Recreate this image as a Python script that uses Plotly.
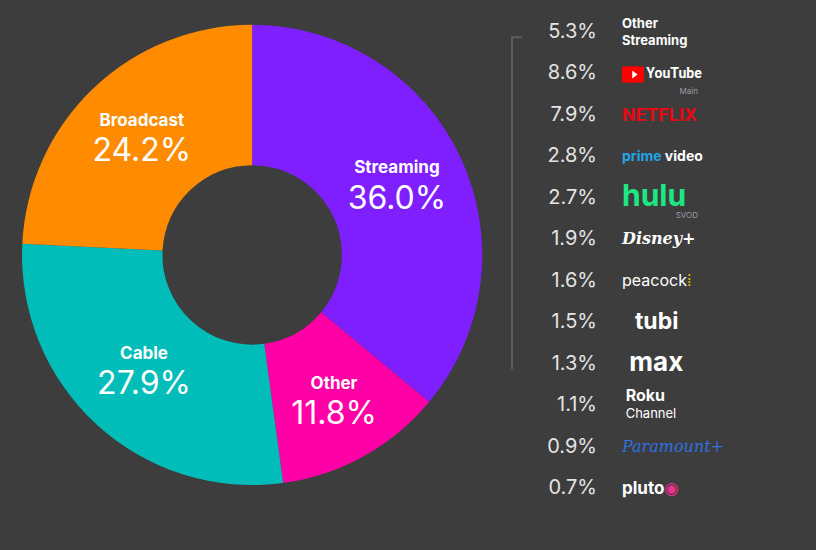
import plotly.graph_objects as go

# Share of TV viewing by category
categories = ["Streaming", "Other", "Cable", "Broadcast"]
shares = [36.0, 11.8, 27.9, 24.2]
slice_colors = ["#7F1FFF", "#FF00A6", "#00BDB9", "#FF8C00"]

# Streaming breakdown (right-hand list)
platforms = ["Other Streaming", "YouTube", "Netflix", "Prime Video", "Hulu", "Disney+",
             "Peacock", "Tubi", "Max", "Roku Channel", "Paramount+", "Pluto TV"]
platform_shares = [5.3, 8.6, 7.9, 2.8, 2.7, 1.9, 1.6, 1.5, 1.3, 1.1, 0.9, 0.7]
sub_labels = ["", "Main", "", "", "SVOD", "", "", "", "", "", "", ""]

# how each platform name is styled (stand-ins for the logos)
platform_text = [
    "<b>Other<br>Streaming</b>",
    "       <b>YouTube</b>",
    "<b>NETFLIX</b>",
    "<b><span style='color:#22A5E6'>prime</span> video</b>",
    "<b>hulu</b>",
    "<i><b>Disney+</b></i>",
    "peacock<span style='color:#F2B705'>⁞</span>",
    "  <b>tubi</b>",
    " <b>max</b>",
    " <b><span style='font-size:16px'>Roku</span></b><br> Channel",
    "<i>Paramount+</i>",
    "<b>pluto</b><span style='color:#E8318F'>◉</span>",
]
platform_colors = ["#FFFFFF", "#FFFFFF", "#E50914", "#FFFFFF", "#1CE783", "#FFFFFF",
                   "#FFFFFF", "#FFFFFF", "#FFFFFF", "#FFFFFF", "#2F6FE0", "#FFFFFF"]
platform_sizes = [13, 14, 19, 14, 30, 16, 16, 23, 26, 13, 16, 17]
platform_fonts = ["Inter", "Roboto", "Roboto", "Inter", "Inter",
                  "DejaVu Serif", "Inter", "Inter", "Inter", "Inter", "DejaVu Serif", "Inter"]

BG = "#3d3d3d"
rows = list(range(len(platforms)))

fig = go.Figure()

fig.add_trace(go.Pie(
    labels=categories,
    values=shares,
    sort=False,
    direction="clockwise",
    rotation=0,
    hole=0.39,
    marker=dict(colors=slice_colors, line=dict(width=0)),
    texttemplate="<b><span style='font-size:17px'>%{label}</span></b><br>"
                 "<span style='font-size:32px'>%{value:.1f}%</span>",
    textposition="inside",
    insidetextorientation="horizontal",
    textfont=dict(family="Inter", size=27, color="white"),
    domain=dict(x=[0.027, 0.591], y=[0.118, 0.955]),
    showlegend=False,
    hoverinfo="label+value",
))

# bracket grouping the streaming services
last_bracket = platforms.index("Max")
fig.add_trace(go.Scatter(
    x=[522, 512, 512],
    y=[rows[0] + 0.1, rows[0] + 0.1, rows[last_bracket] + 0.1],
    mode="lines",
    line=dict(color="#5c5c68", width=2),
    showlegend=False, hoverinfo="skip",
))

# percentages
fig.add_trace(go.Scatter(
    x=[597] * len(rows),
    y=rows,
    mode="text",
    text=[f"{v:.1f}%" for v in platform_shares],
    textposition="middle left",
    textfont=dict(family="Inter", size=20, color="#E4E4E4"),
    showlegend=False, hoverinfo="skip",
))

# platform names
fig.add_trace(go.Scatter(
    x=[622] * len(rows),
    y=rows,
    mode="text",
    text=platform_text,
    textposition="middle right",
    textfont=dict(family=platform_fonts, size=platform_sizes, color=platform_colors),
    showlegend=False, hoverinfo="skip",
))

# small captions under some names
sub_rows = [r for r, s in zip(rows, sub_labels) if s]
fig.add_trace(go.Scatter(
    x=[698] * len(sub_rows),
    y=[r + 0.42 for r in sub_rows],
    mode="text",
    text=[s for s in sub_labels if s],
    textposition="middle left",
    textfont=dict(family="Inter", size=8, color="#9a9aa8"),
    showlegend=False, hoverinfo="skip",
))

# YouTube play button
yt = platforms.index("YouTube")
fig.add_trace(go.Scatter(
    x=[630, 636], y=[yt, yt],
    mode="markers",
    marker=dict(symbol="square", size=16, color="#FF0000"),
    showlegend=False, hoverinfo="skip",
))
fig.add_trace(go.Scatter(
    x=[634], y=[yt],
    mode="markers",
    marker=dict(symbol="triangle-right", size=7, color="white"),
    showlegend=False, hoverinfo="skip",
))

fig.update_layout(
    width=816, height=550,
    margin=dict(l=0, r=0, t=0, b=0),
    paper_bgcolor=BG, plot_bgcolor="rgba(0,0,0,0)",
    xaxis=dict(range=[0, 816], domain=[0, 1], visible=False, fixedrange=True),
    yaxis=dict(range=[12.46, -0.795], domain=[0, 1], visible=False, fixedrange=True),
)

fig.write_html("out.html", config={"displayModeBar": False},
               post_script="document.body.style.margin='0px';")
